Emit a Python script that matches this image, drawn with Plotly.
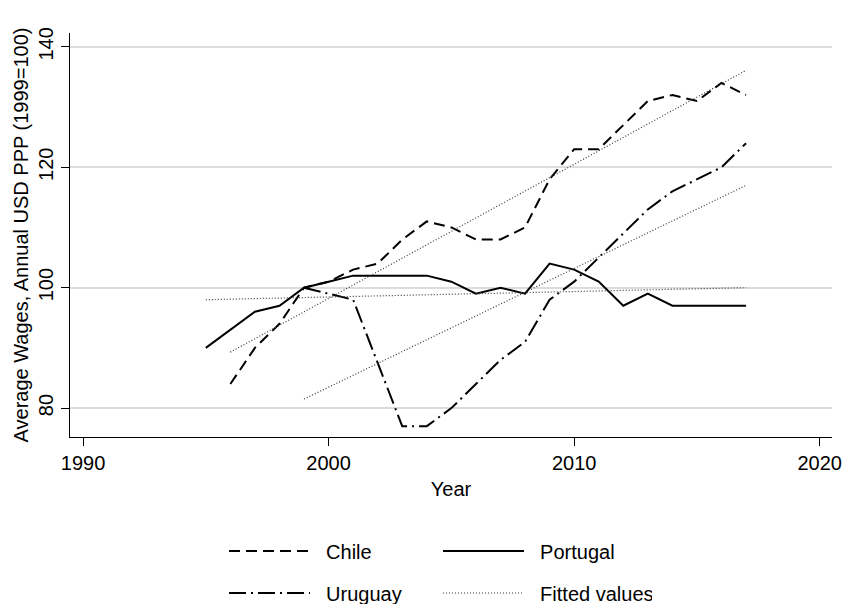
import plotly.graph_objects as go

# Average wage indices (1999 = 100), annual USD PPP
chile_years = list(range(1996, 2018))
chile = [84, 90, 94, 100, 101, 103, 104, 108, 111, 110, 108, 108,
         110, 118, 123, 123, 127, 131, 132, 131, 134, 132]

portugal_years = list(range(1995, 2018))
portugal = [90, 93, 96, 97, 100, 101, 102, 102, 102, 102, 101, 99,
            100, 99, 104, 103, 101, 97, 99, 97, 97, 97, 97]

uruguay_years = list(range(1999, 2018))
uruguay = [100, 99, 98, 87.5, 77, 77, 80, 84, 88, 91, 98, 101,
           105, 109, 113, 116, 118, 120, 124]

# Linear fitted values at the first and last year of each series
chile_fit_years = [1996, 2017]
chile_fit = [89.3, 136.1]
portugal_fit_years = [1995, 2017]
portugal_fit = [98.0, 100.0]
uruguay_fit_years = [1999, 2017]
uruguay_fit = [81.5, 117.0]

x_ticks = [1990, 2000, 2010, 2020]
y_ticks = [80, 100, 120, 140]

FONT = "Liberation Sans, Arial, Helvetica, sans-serif"
NB = "\u00a0\u00a0"

fig = go.Figure()

fig.add_trace(go.Scatter(
    x=chile_years, y=chile, mode="lines", name=NB + "Chile",
    line=dict(color="black", width=2, dash="11px,6px"), legend="legend"))
fig.add_trace(go.Scatter(
    x=portugal_years, y=portugal, mode="lines", name=NB + "Portugal",
    line=dict(color="black", width=2), legend="legend"))
fig.add_trace(go.Scatter(
    x=uruguay_years, y=uruguay, mode="lines", name=NB + "Uruguay",
    line=dict(color="black", width=2, dash="17px,5px,2px,5px"), legend="legend2"))

fit_line = dict(color="#3a3a3a", width=1.2, dash="1px,2px")
for i, (fx, fy) in enumerate([(chile_fit_years, chile_fit),
                              (portugal_fit_years, portugal_fit),
                              (uruguay_fit_years, uruguay_fit)]):
    fig.add_trace(go.Scatter(
        x=fx, y=fy, mode="lines", name=NB + "Fitted values",
        line=fit_line, legendgroup="fit", showlegend=(i == 0),
        legend="legend2"))

legend_common = dict(
    orientation="h", xref="paper", yref="container",
    xanchor="left", yanchor="middle",
    itemwidth=81, entrywidth=118, entrywidthmode="pixels",
    font=dict(family=FONT, size=20, color="black"),
    bgcolor="rgba(0,0,0,0)", borderwidth=0, traceorder="normal",
    itemclick=False, itemdoubleclick=False,
)

fig.update_layout(
    width=844, height=604,
    margin=dict(l=70, r=12, t=33, b=167, autoexpand=False),
    plot_bgcolor="white", paper_bgcolor="white",
    font=dict(family=FONT, size=20, color="black"),
    showlegend=True,
    legend=dict(x=(224 - 70) / 762, y=53 / 604, **legend_common),
    legend2=dict(x=(224 - 70) / 762, y=11 / 604, **legend_common),
    xaxis=dict(
        range=[1989.47, 2020.5], tickvals=x_ticks, automargin=False,
        ticks="outside", ticklen=8, tickwidth=1, tickcolor="black",
        showline=True, linecolor="black", linewidth=1,
        showgrid=False, zeroline=False,
        title=dict(text="Year", standoff=8, font=dict(size=20)),
        tickfont=dict(size=20),
    ),
    yaxis=dict(
        range=[75.2, 142.3], tickvals=y_ticks, tickangle=-90, automargin=False,
        ticks="outside", ticklen=8, tickwidth=1, tickcolor="black",
        showline=True, linecolor="black", linewidth=1,
        showgrid=True, gridcolor="#dcdcdc", gridwidth=1.5, zeroline=False,
        title=dict(text="Average Wages, Annual USD PPP (1999=100)",
                   standoff=1, font=dict(size=20)),
        tickfont=dict(size=20),
    ),
)

fig.write_html("out.html")
